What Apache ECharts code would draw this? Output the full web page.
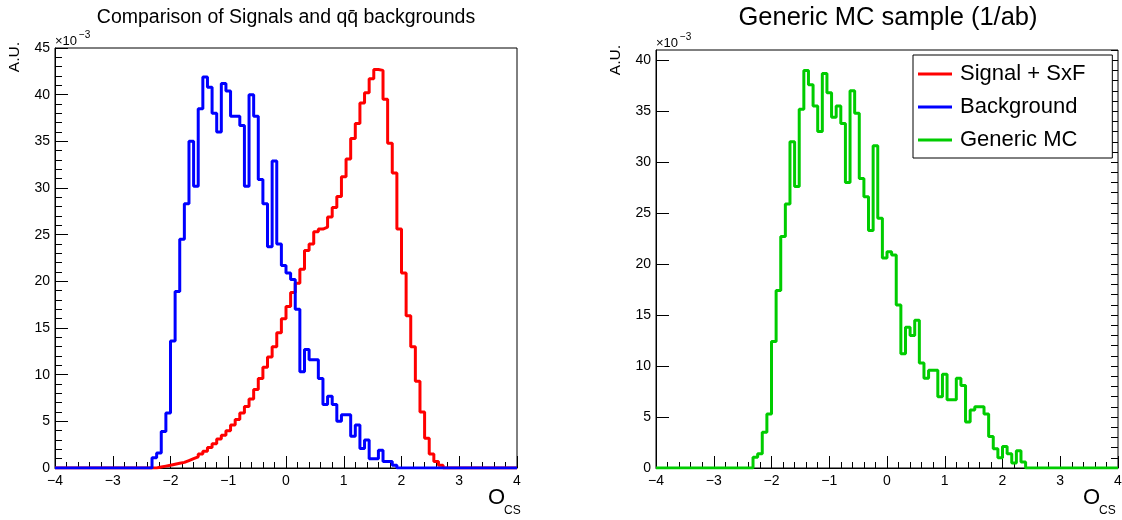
<!DOCTYPE html>
<html>
<head>
<meta charset="utf-8">
<script src="https://cdn.jsdelivr.net/npm/echarts@6/dist/echarts.min.js"></script>
<style>
  html, body { margin: 0; padding: 0; background: #fff; }
  #chart { width: 1122px; height: 520px; }
</style>
</head>
<body>
<div id="chart"></div>
<script>
// Histogram binning of O_CS: 100 bins over [-4, 4]
const X_MIN = -4;
const X_MAX = 4;
const BIN_WIDTH = 0.08;

// Bin contents (x 10^-3), listed from the first non-empty bin's low edge
const signalFirstEdge = -2.24;
const signalValues = [
  0.1, 0.2, 0.3, 0.4, 0.5, 0.6, 0.8, 1.0, 1.2, 1.5,
  1.8, 2.2, 2.6, 3.1, 3.5, 4.0, 4.6, 5.2, 5.9, 6.6,
  7.4, 8.4, 9.6, 10.8, 11.9, 13.0, 14.5, 16.0, 17.3, 18.8,
  19.8, 21.3, 23.3, 24.0, 25.3, 25.6, 25.8, 26.9, 27.9, 29.1,
  31.2, 33.1, 35.3, 36.9, 39.1, 40.2, 41.7, 42.7, 42.6, 39.5,
  34.8, 31.6, 25.6, 20.9, 16.3, 13.0, 9.3, 6.0, 3.2, 1.5,
  0.7, 0.3
];

const backgroundFirstEdge = -2.32;
const backgroundValues = [
  1.1, 1.6, 3.9, 5.9, 13.6, 18.9, 24.5, 28.3, 35.0, 30.2,
  38.5, 41.9, 40.8, 38.0, 36.0, 41.2, 40.4, 37.7, 37.7, 36.7,
  30.2, 40.0, 37.7, 30.9, 28.3, 23.7, 32.9, 24.0, 21.7, 20.9,
  20.2, 17.0, 10.3, 12.7, 11.6, 11.6, 9.6, 6.8, 7.7, 6.8,
  5.0, 5.7, 5.7, 3.4, 4.6, 2.1, 3.0, 1.0, 1.0, 1.9,
  0.7, 0.7, 0.3
];

const genericFirstEdge = -2.32;
const genericValues = [
  1.05, 1.4, 3.5, 5.3, 12.4, 17.4, 22.7, 25.9, 32.0, 27.6,
  35.2, 39.0, 37.6, 35.5, 33.0, 38.7, 36.8, 34.4, 35.5, 33.8,
  28.0, 37.0, 34.8, 28.4, 26.6, 23.3, 31.6, 24.5, 20.6, 21.2,
  20.9, 16.0, 11.2, 13.8, 13.0, 14.5, 10.3, 8.8, 9.6, 9.6,
  7.0, 9.2, 6.7, 6.7, 8.8, 8.1, 4.5, 5.7, 6.0, 6.0,
  5.3, 3.1, 1.9, 1.0, 2.1, 1.4, 0.5, 1.7, 0.6
];

const seriesNames = ['Signal + SxF', 'Background', 'Generic MC'];
const panelTitles = ['Comparison of Signals and q\u0071\u0304 backgrounds', 'Generic MC sample (1/ab)'];

// Turn bin contents into a ROOT-style step outline (zero bins drawn on the baseline)
function histOutline(firstEdge, values) {
  const nBins = Math.round((X_MAX - X_MIN) / BIN_WIDTH);
  const first = Math.round((firstEdge - X_MIN) / BIN_WIDTH);
  const pts = [[X_MIN, 0]];
  for (let i = 0; i < nBins; i++) {
    const lo = +(X_MIN + i * BIN_WIDTH).toFixed(4);
    const hi = +(X_MIN + (i + 1) * BIN_WIDTH).toFixed(4);
    const k = i - first;
    const v = (k >= 0 && k < values.length) ? values[k] : 0;
    pts.push([lo, v], [hi, v]);
  }
  pts.push([X_MAX, 0]);
  return pts;
}

const FONT = '"Liberation Sans", Arial, Helvetica, sans-serif';
const minus = v => String(v).replace('-', '\u2212');

function xAxisFor(gridIndex) {
  return {
    type: 'value', gridIndex, min: X_MIN, max: X_MAX, interval: 1,
    splitLine: { show: false },
    axisLine: { show: true, onZero: false, lineStyle: { color: '#000', width: 1 } },
    axisTick: { show: true, inside: true, length: 12, lineStyle: { color: '#000', width: 1 } },
    minorTick: { show: true, splitNumber: 5, length: 6, lineStyle: { color: '#000', width: 1 } },
    axisLabel: { color: '#000', fontSize: 14, fontFamily: FONT, margin: 6, formatter: minus }
  };
}

function yAxisFor(gridIndex, max, extra) {
  return Object.assign({
    type: 'value', gridIndex, min: 0, max, interval: 5,
    splitLine: { show: false },
    axisLine: { show: true, onZero: false, lineStyle: { color: '#000', width: 1 } },
    axisTick: { show: true, inside: true, length: 13, lineStyle: { color: '#000', width: 1 } },
    axisLabel: { color: '#000', fontSize: 14, fontFamily: FONT, margin: 5 }
  }, extra);
}

const chart = echarts.init(document.getElementById('chart'), null, { renderer: 'canvas' });

const option = {
  animation: false,
  backgroundColor: '#fff',
  grid: [
    { left: 55, top: 48, width: 462, height: 420, show: true, borderColor: '#000', borderWidth: 1, backgroundColor: 'transparent', outerBoundsMode: 'none' },
    { left: 656, top: 50, width: 462, height: 418, show: true, borderColor: '#000', borderWidth: 1, backgroundColor: 'transparent', outerBoundsMode: 'none' }
  ],
  xAxis: [xAxisFor(0), xAxisFor(1)],
  yAxis: [
    yAxisFor(0, 45, {
      minorTick: { show: true, splitNumber: 5, length: 7, lineStyle: { color: '#000', width: 1 } }
    }),
    yAxisFor(1, 41, {
      minorTick: { show: false },
      axisLabel: { color: '#000', fontSize: 14, fontFamily: FONT, margin: 5, showMaxLabel: false }
    }),
    {
      // unit-spaced small ticks of the right panel
      type: 'value', gridIndex: 1, min: 0, max: 41, interval: 1,
      splitLine: { show: false },
      axisLine: { show: false, onZero: false },
      axisTick: { show: true, inside: true, length: 7, lineStyle: { color: '#000', width: 1 } },
      axisLabel: { show: false }
    }
  ],
  legend: {
    left: 913, top: 55, orient: 'vertical',
    data: seriesNames,
    icon: 'rect', itemWidth: 34, itemHeight: 3, itemGap: 11,
    borderColor: '#000', borderWidth: 1, backgroundColor: '#fff',
    padding: [8, 27, 7, 5],
    itemStyle: { borderWidth: 0 },
    selectedMode: false,
    textStyle: { color: '#000', fontSize: 22, fontFamily: FONT, padding: [0, 0, 0, 3] }
  },
  series: [
    {
      name: seriesNames[0], type: 'line', xAxisIndex: 0, yAxisIndex: 0,
      data: histOutline(signalFirstEdge, signalValues),
      showSymbol: false, symbol: 'none',
      lineStyle: { color: '#ff0000', width: 3 }, itemStyle: { color: '#ff0000' }
    },
    {
      name: seriesNames[1], type: 'line', xAxisIndex: 0, yAxisIndex: 0,
      data: histOutline(backgroundFirstEdge, backgroundValues),
      showSymbol: false, symbol: 'none',
      lineStyle: { color: '#0000ff', width: 3 }, itemStyle: { color: '#0000ff' }
    },
    {
      name: seriesNames[2], type: 'line', xAxisIndex: 1, yAxisIndex: 1,
      data: histOutline(genericFirstEdge, genericValues),
      showSymbol: false, symbol: 'none',
      lineStyle: { color: '#00cc00', width: 3 }, itemStyle: { color: '#00cc00' }
    }
  ],
  graphic: [
    // panel titles
    { type: 'text', x: 286, y: 18, style: { text: panelTitles[0], fontSize: 19.5, fontFamily: FONT, fill: '#000', align: 'center', verticalAlign: 'middle' } },
    { type: 'text', x: 888, y: 18, style: { text: panelTitles[1], fontSize: 25.5, fontFamily: FONT, fill: '#000', align: 'center', verticalAlign: 'middle' } },
    // y-axis titles
    { type: 'text', x: 15, y: 42, rotation: Math.PI / 2, style: { text: 'A.U.', fontSize: 15.5, fontFamily: FONT, fill: '#000', align: 'right', verticalAlign: 'middle' } },
    { type: 'text', x: 616, y: 45, rotation: Math.PI / 2, style: { text: 'A.U.', fontSize: 15.5, fontFamily: FONT, fill: '#000', align: 'right', verticalAlign: 'middle' } },
    // axis multipliers
    { type: 'text', x: 55, y: 41, style: { text: '\u00d710', fontSize: 13, fontFamily: FONT, fill: '#000', align: 'left', verticalAlign: 'middle' } },
    { type: 'text', x: 79, y: 35, style: { text: '\u22123', fontSize: 10, fontFamily: FONT, fill: '#000', align: 'left', verticalAlign: 'middle' } },
    { type: 'text', x: 656, y: 43, style: { text: '\u00d710', fontSize: 13, fontFamily: FONT, fill: '#000', align: 'left', verticalAlign: 'middle' } },
    { type: 'text', x: 680, y: 37, style: { text: '\u22123', fontSize: 10, fontFamily: FONT, fill: '#000', align: 'left', verticalAlign: 'middle' } },
    // x-axis titles
    { type: 'text', x: 505, y: 498, style: { text: 'O', fontSize: 22, fontFamily: FONT, fill: '#000', align: 'right', verticalAlign: 'middle' } },
    { type: 'text', x: 504, y: 511, style: { text: 'CS', fontSize: 12, fontFamily: FONT, fill: '#000', align: 'left', verticalAlign: 'middle' } },
    { type: 'text', x: 1100, y: 498, style: { text: 'O', fontSize: 22, fontFamily: FONT, fill: '#000', align: 'right', verticalAlign: 'middle' } },
    { type: 'text', x: 1099, y: 511, style: { text: 'CS', fontSize: 12, fontFamily: FONT, fill: '#000', align: 'left', verticalAlign: 'middle' } }
  ]
};

chart.setOption(option);
</script>
</body>
</html>
